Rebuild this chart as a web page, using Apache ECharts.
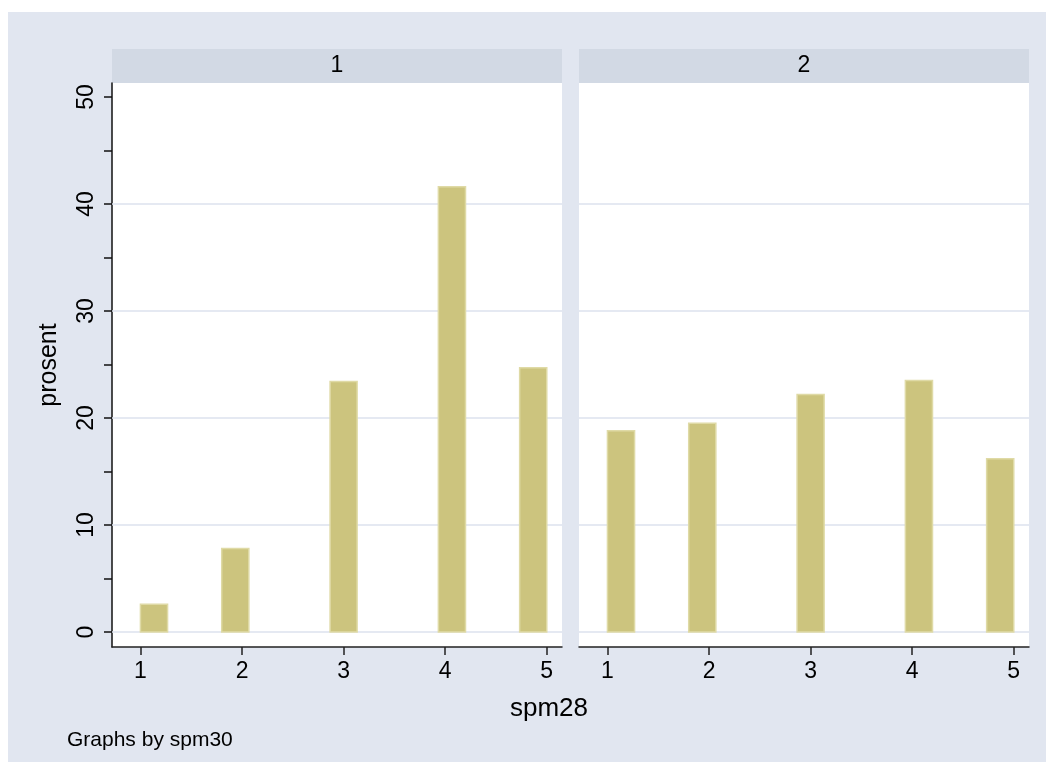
<!DOCTYPE html>
<html>
<head>
<meta charset="utf-8">
<script src="https://cdn.jsdelivr.net/npm/echarts@6/dist/echarts.min.js"></script>
<style>
html,body{margin:0;padding:0;background:#fff;}
#main{width:1054px;height:774px;}
</style>
</head>
<body>
<div id="main"></div>
<script>
// histogram of spm28 by spm30 (percent), 15 bins between 1 and 5
var panelNames = ['1', '2'];
var binLo = [1, 1.8, 2.867, 3.933, 4.733];
var binHi = [1.267, 2.067, 3.133, 4.2, 5];
var pct1 = [2.6, 7.8, 23.4, 41.6, 24.7];
var pct2 = [18.8, 19.5, 22.2, 23.5, 16.2];
var xTicks = [1, 2, 3, 4, 5];
var yLabels = [0, 10, 20, 30, 40, 50];
var yTicks = [0, 5, 10, 15, 20, 25, 30, 35, 40, 45, 50];
var gridVals = [0, 10, 20, 30, 40];

var font = 'Liberation Sans, Arial, Helvetica, sans-serif';
var bg = '#E1E6F0';
var stripColor = '#D2D9E4';
var barFill = '#CCC47E';
var barEdge = '#DFDAA6';

var myChart = echarts.init(document.getElementById('main'));

function makeData(vals)
{
	var out = [];
	for (var i = 0; i < vals.length; i++) {
		out.push([binLo[i], binHi[i], vals[i]]);
	}
	return out;
}

function renderBar(params, api)
{
	var p0 = api.coord([api.value(0), api.value(2)]);
	var p1 = api.coord([api.value(1), 0]);
	return {
		type: 'rect',
		shape: {x: p0[0], y: p0[1], width: p1[0] - p0[0], height: p1[1] - p0[1]},
		style: {fill: barFill, stroke: barEdge, lineWidth: 1.5}
	};
}

var panels = [pct1, pct2];
var grids = [], xAxes = [], yAxes = [], series = [], graphics = [];
var lefts = [112, 579];

// outer background
graphics.push({
	type: 'rect', silent: true, z: -10,
	shape: {x: 8, y: 12, width: 1038, height: 750},
	style: {fill: bg}
});

for (var k = 0; k < panels.length; k++) {
	grids.push({
		left: lefts[k], top: 83, width: 450, height: 564,
		show: true, backgroundColor: '#fff', borderWidth: 0
	});
	xAxes.push({
		gridIndex: k, type: 'value', min: 0.72, max: 5.15,
		axisLine: {onZero: false, lineStyle: {color: '#222', width: 1.5}},
		axisTick: {customValues: xTicks, length: 8, lineStyle: {color: '#222', width: 1.5}},
		axisLabel: {customValues: xTicks, color: '#000', fontSize: 23, fontFamily: font, margin: 13},
		splitLine: {show: false}
	});
	yAxes.push({
		gridIndex: k, type: 'value', min: -1.4, max: 51.3,
		name: k == 0 ? 'prosent' : '',
		nameLocation: 'middle', nameGap: 50,
		nameTextStyle: {color: '#000', fontSize: 25, fontFamily: font},
		axisLine: {show: k == 0, onZero: false, lineStyle: {color: '#111', width: 1.5}},
		axisTick: {show: k == 0, customValues: yTicks, length: 8, lineStyle: {color: '#111', width: 1.5}},
		axisLabel: {show: k == 0, customValues: yLabels, rotate: 90, color: '#000', fontSize: 23, fontFamily: font, margin: 14},
		splitLine: {show: false}
	});
	// light grid lines drawn under the bars
	series.push({
		type: 'line', xAxisIndex: k, yAxisIndex: k, data: [], z: 1,
		markLine: {
			silent: true, symbol: 'none', z: 1, animation: false,
			label: {show: false},
			lineStyle: {color: '#DDE2EE', width: 1.5, type: 'solid'},
			data: gridVals.map(function(v){ return {yAxis: v}; })
		}
	});
	series.push({
		type: 'custom', xAxisIndex: k, yAxisIndex: k, z: 10,
		renderItem: renderBar,
		data: makeData(panels[k])
	});
	// panel strip
	graphics.push({
		type: 'rect', silent: true,
		shape: {x: lefts[k], y: 49, width: 450, height: 34},
		style: {fill: stripColor}
	});
	graphics.push({
		type: 'text', silent: true,
		x: lefts[k] + 225, y: 66,
		style: {text: panelNames[k], fill: '#000', font: '23px ' + font, textAlign: 'center', textVerticalAlign: 'middle'}
	});
}

graphics.push({
	type: 'text', silent: true, x: 549, y: 709,
	style: {text: 'spm28', fill: '#000', font: '26px ' + font, textAlign: 'center', textVerticalAlign: 'middle'}
});
graphics.push({
	type: 'text', silent: true, x: 67, y: 740,
	style: {text: 'Graphs by spm30', fill: '#000', font: '21px ' + font, textAlign: 'left', textVerticalAlign: 'middle'}
});

var option = {
	animation: false,
	backgroundColor: '#fff',
	grid: grids,
	xAxis: xAxes,
	yAxis: yAxes,
	series: series,
	graphic: graphics
};
myChart.setOption(option);
</script>
</body>
</html>
